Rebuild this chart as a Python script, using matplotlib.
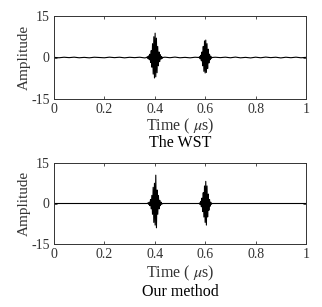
import numpy as np
import matplotlib
matplotlib.use("Agg")
import matplotlib.pyplot as plt

plt.rcParams['font.family'] = ['Liberation Serif', 'DejaVu Serif']
plt.rcParams['mathtext.fontset'] = 'stix'

# ---- data ----
x_ticks = [0, 0.2, 0.4, 0.6, 0.8, 1]
x_tick_labels = ['0', '0.2', '0.4', '0.6', '0.8', '1']
y_ticks = [-15, 0, 15]
y_tick_labels = ['-15', '0', '15']

# small baseline wiggle of the WST result, sampled every 0.02 us
wst_base_t = np.round(np.arange(0, 1.0001, 0.02), 3)
wst_base_y = [0.05, -0.1, 0.1, -0.05, 0.12, -0.1, 0.05, -0.12, 0.1, 0.0,
              -0.1, 0.12, -0.05, 0.1, -0.12, 0.08, -0.05, 0.1, -0.15, 0.1,
              0.0, -0.1, 0.12, -0.08, 0.15, -0.1, 0.05, -0.12, 0.1, -0.05,
              0.15, -0.15, 0.1, -0.05, 0.12, -0.1, 0.15, -0.12, 0.05, -0.15,
              0.12, -0.1, 0.15, -0.05, 0.1, -0.15, 0.1, -0.08, 0.12, -0.1, 0.05]

# wave packets: time span and successive half-cycle peak amplitudes
wst_p1_span = (0.368, 0.432)
wst_p1_peaks = [0.3, -0.4, 0.6, -0.8, 1.2, -1.8, 2.5, -3.5, 5.0, -6.0, 7.5, -7.4,
                8.8, -7.0, 7.0, -5.5, 4.0, -3.0, 2.0, -1.5, 1.0, -0.6, 0.4, -0.3]
wst_p2_span = (0.575, 0.627)
wst_p2_peaks = [0.3, -0.5, 0.8, -1.2, 2.0, -3.0, 4.0, -5.0, 6.0, -5.6, 6.3, -5.4,
                5.0, -4.0, 3.0, -2.0, 1.2, -0.8, 0.5, -0.3]

our_base_t = [0.0, 1.0]
our_base_y = [0.0, 0.0]
our_p1_span = (0.370, 0.430)
our_p1_peaks = [0.2, -0.3, 0.5, -0.8, 1.5, -2.0, 3.0, -4.0, 6.0, -7.0, 7.5, -8.0,
                10.5, -9.0, 5.0, -4.0, 3.0, -2.0, 1.2, -0.8, 0.5, -0.3]
our_p2_span = (0.575, 0.627)
our_p2_peaks = [0.2, -0.4, 0.8, -1.2, 2.0, -3.0, 4.0, -5.0, 6.5, -7.0, 8.2, -8.0,
                6.5, -5.0, 3.5, -2.5, 1.5, -1.0, 0.5, -0.3]

titles = ['The WST', 'Our method']


def build(base_t, base_y, packets):
    bt = np.asarray(base_t, float)
    by = np.asarray(base_y, float)
    keep = np.ones(len(bt), bool)
    ts = []
    ys = []
    for (a, b), pk in packets:
        keep &= ~((bt >= a) & (bt <= b))
        pt = np.linspace(a, b, len(pk) + 2)
        ts.append(pt)
        ys.append(np.concatenate([[0.0], pk, [0.0]]))
    t = np.concatenate([bt[keep]] + ts)
    y = np.concatenate([by[keep]] + ys)
    o = np.argsort(t, kind='stable')
    return t[o], y[o]


series = [
    build(wst_base_t, wst_base_y, [(wst_p1_span, wst_p1_peaks), (wst_p2_span, wst_p2_peaks)]),
    build(our_base_t, our_base_y, [(our_p1_span, our_p1_peaks), (our_p2_span, our_p2_peaks)]),
]

W, H = 322, 307
fig = plt.figure(figsize=(W / 100, H / 100), dpi=100)
axes_px = [(54, 16, 306, 99), (54, 163, 306, 244)]
xlab_y = [126, 273]
title_y = [143, 292]
spine_col = '#333333'

for i, ((l, t, r, b), (tt, yy)) in enumerate(zip(axes_px, series)):
    ax = fig.add_axes([l / W, 1 - b / H, (r - l) / W, (b - t) / H])
    ax.plot(tt, yy, color='black', lw=0.8)
    ax.set_xlim(0, 1)
    ax.set_ylim(-15, 15)
    ax.set_xticks(x_ticks)
    ax.set_xticklabels(x_tick_labels)
    ax.set_yticks(y_ticks)
    ax.set_yticklabels(y_tick_labels)
    ax.tick_params(direction='in', length=2.5, width=0.6, top=True, right=True,
                   labelsize=10, colors=spine_col, pad=3)
    for s in ax.spines.values():
        s.set_color(spine_col)
        s.set_linewidth(0.7)
    ax.set_ylabel('Amplitude', fontsize=11, color=spine_col, labelpad=0)
    fig.text((l + r) / 2 / W, 1 - xlab_y[i] / H, r'Time ( $\mu$s)', ha='center', va='center',
             fontsize=11.5, color=spine_col)
    fig.text((l + r) / 2 / W, 1 - title_y[i] / H, titles[i], ha='center', va='center',
             fontsize=11.5, color='black')

fig.savefig('out.png', dpi=100)
